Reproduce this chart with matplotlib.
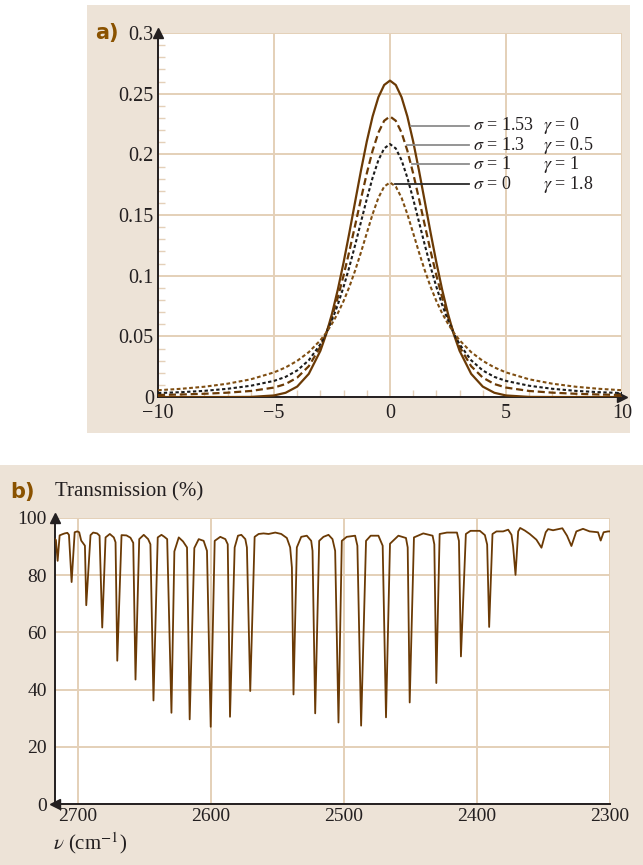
"""
Zwei Panels: a) Voigt-Profile mit verschiedenen sigma/gamma, b) IR-Transmissionsspektrum
"""
import numpy as np
import matplotlib
matplotlib.use("Agg")
import matplotlib.pyplot as plt
from matplotlib.patches import Rectangle
from matplotlib.ticker import MultipleLocator, FixedLocator

# --- Daten Panel a (nur x >= 0, Kurven symmetrisch) ---
x_half = [0, 0.25, 0.5, 0.75, 1, 1.25, 1.5, 1.75, 2, 2.25, 2.5, 2.75,
          3, 3.5, 4, 4.5, 5, 6, 7, 8, 9, 10]
g153 = [0.2608, 0.2572, 0.2471, 0.2312, 0.2106, 0.1867, 0.1612, 0.1355, 0.1109,
        0.0884, 0.0686, 0.0518, 0.0381, 0.0191, 0.0086, 0.0035, 0.0013, 0.0001,
        0.0, 0.0, 0.0, 0.0]
v130 = [0.2313, 0.2277, 0.2179, 0.2030, 0.1843, 0.1634, 0.1417, 0.1203, 0.1002,
        0.0820, 0.0661, 0.0526, 0.0414, 0.0254, 0.0160, 0.0107, 0.0078, 0.0050,
        0.0036, 0.0027, 0.0021, 0.0017]
v100 = [0.2085, 0.2049, 0.1952, 0.1807, 0.1632, 0.1443, 0.1254, 0.1073, 0.0908,
        0.0760, 0.0633, 0.0524, 0.0435, 0.0303, 0.0219, 0.0166, 0.0133, 0.0093,
        0.0068, 0.0051, 0.0040, 0.0033]
l180 = [0.1768, 0.1735, 0.1642, 0.1507, 0.1351, 0.1193, 0.1044, 0.0909, 0.0791,
        0.0690, 0.0604, 0.0530, 0.0468, 0.0370, 0.0298, 0.0244, 0.0203, 0.0146,
        0.0110, 0.0085, 0.0068, 0.0056]
sigma_labels = ["1.53", "1.3", "1", "0"]
gamma_labels = ["0", "0.5", "1", "1.8"]
# Beschriftungslinien: Start x (an der Kurve), y
leader_x = [0.90, 0.72, 0.93, 0.22]
leader_y = [0.2236, 0.2077, 0.1918, 0.1753]

# --- Daten Panel b ---
wavenumber = [
    2717.2, 2716.3, 2715.0, 2713.5, 2711.5, 2709.7, 2707.7, 2706.5, 2704.5, 2702.2,
    2700.3, 2698.8, 2697.3, 2694.5, 2693.5, 2690.3, 2688.3, 2685.3, 2683.5, 2681.5,
    2679.0, 2675.8, 2672.8, 2671.5, 2670.2, 2667.0, 2663.3, 2660.3, 2658.2, 2656.5,
    2653.7, 2650.3, 2647.0, 2645.3, 2643.0, 2639.8, 2637.0, 2634.8, 2632.7, 2629.5,
    2627.3, 2624.0, 2620.8, 2617.8, 2615.8, 2612.3, 2609.0, 2605.3, 2602.8, 2600.0,
    2597.0, 2592.8, 2589.0, 2587.2, 2585.5, 2582.0, 2579.5, 2577.0, 2574.0, 2572.8,
    2570.3, 2567.0, 2564.0, 2560.3, 2556.5, 2551.5, 2547.0, 2542.8, 2540.3, 2539.0,
    2537.8, 2535.3, 2532.0, 2527.8, 2524.5, 2523.5, 2521.5, 2518.5, 2515.3, 2511.5,
    2508.5, 2506.5, 2504.0, 2501.5, 2497.8, 2491.5, 2489.8, 2487.0, 2483.3, 2479.8,
    2474.0, 2470.8, 2468.3, 2465.3, 2459.0, 2453.3, 2452.0, 2450.5, 2447.3, 2440.3,
    2433.3, 2432.0, 2430.5, 2428.0, 2422.5, 2415.0, 2413.5, 2412.0, 2408.3, 2404.8,
    2397.8, 2394.0, 2392.3, 2390.8, 2388.3, 2385.3, 2380.3, 2376.5, 2374.0, 2372.8,
    2371.0, 2369.0, 2367.5, 2364.0, 2360.3, 2355.3, 2351.5, 2348.3, 2346.5, 2342.8,
    2335.8, 2332.3, 2329.0, 2325.3, 2320.3, 2315.3, 2309.0, 2307.0, 2304.8, 2301.5,
    2300.0]
transmission = [
    92.7, 92.3, 85.0, 93.9, 94.3, 94.6, 94.8, 94.1, 77.6, 95.0,
    95.3, 95.0, 92.1, 90.3, 69.5, 94.0, 94.9, 94.6, 93.8, 61.7,
    93.2, 94.4, 93.2, 91.5, 50.1, 94.0, 93.9, 93.1, 91.3, 43.5,
    92.6, 94.1, 92.6, 90.8, 36.2, 93.2, 94.1, 93.4, 92.6, 31.9,
    88.3, 93.2, 91.8, 89.7, 29.6, 89.5, 92.6, 92.0, 88.5, 27.0,
    92.0, 93.4, 92.6, 90.8, 30.5, 89.7, 93.8, 94.1, 92.6, 89.7,
    39.5, 93.4, 94.4, 94.6, 94.4, 94.9, 94.4, 93.0, 89.7, 82.7,
    38.3, 89.7, 93.4, 93.8, 92.0, 88.5, 31.7, 92.0, 93.4, 94.1,
    92.6, 88.5, 28.5, 92.0, 93.4, 93.8, 90.3, 27.4, 92.0, 93.8,
    93.8, 90.3, 30.3, 91.0, 93.8, 93.0, 89.7, 35.5, 93.2, 94.6,
    93.8, 90.8, 42.3, 94.4, 94.9, 94.9, 92.0, 51.6, 94.4, 95.5,
    95.5, 94.0, 90.7, 61.9, 94.4, 95.3, 95.3, 95.9, 94.1, 90.1,
    80.1, 95.3, 96.5, 95.6, 94.4, 92.4, 89.6, 95.0, 96.1, 95.7,
    96.4, 93.8, 90.2, 95.3, 96.2, 95.3, 95.0, 92.1, 95.0, 95.3,
    95.3]

# Farben
BEIGE = "#ede3d7"
GRID = "#e4d0b8"
AXIS = "#231f20"
BROWN = "#6b3a05"
BROWN2 = "#7f4e12"
LABEL = "#8a5200"
SERIF = ["Liberation Serif", "DejaVu Serif"]

plt.rcParams["mathtext.fontset"] = "stix"
plt.rcParams["font.family"] = SERIF

fig = plt.figure(figsize=(6.43, 8.65), dpi=100, facecolor="white")

# Hintergrundflaechen (unter den Achsen)
fig.patches.append(Rectangle((0.1353, 0.4994), 0.8445, 0.4948, transform=fig.transFigure,
                             facecolor=BEIGE, edgecolor="none", zorder=-10))
fig.patches.append(Rectangle((0.0, 0.0), 1.0, 0.4624, transform=fig.transFigure,
                             facecolor=BEIGE, edgecolor="none", zorder=-10))


def style_axes(ax):
    ax.set_facecolor("white")
    ax.set_axisbelow(True)
    for side in ("top", "right"):
        ax.spines[side].set_visible(False)
    for side in ("left", "bottom"):
        ax.spines[side].set_color(AXIS)
        ax.spines[side].set_linewidth(1.4)
    ax.grid(which="major", color=GRID, linewidth=1.4)
    ax.tick_params(which="major", length=0, colors=AXIS)


# ---------- Panel a ----------
ax1 = fig.add_axes([0.2457, 0.5410, 0.7216, 0.4208])
style_axes(ax1)

x_arr = np.array(x_half)
x_full = np.concatenate([-x_arr[:0:-1], x_arr])


def mirror(vals):
    v = np.array(vals)
    return np.concatenate([v[:0:-1], v])


ax1.plot(x_full, mirror(g153), color=BROWN, lw=1.6, zorder=3)
ax1.plot(x_full, mirror(v130), color=BROWN, lw=1.6, dashes=(3.2, 1.7), zorder=3)
ax1.plot(x_full, mirror(v100), color="#1c1c1c", lw=1.5, dashes=(1.6, 1.2), zorder=3)
ax1.plot(x_full, mirror(l180), color=BROWN2, lw=1.5, dashes=(1.8, 1.2), zorder=3)

ax1.set_xlim(-10, 10)
ax1.set_ylim(0, 0.3)
ax1.xaxis.set_major_locator(FixedLocator([-10, -5, 0, 5, 10]))
ax1.set_xticklabels(["\u221210", "\u22125", "0", "5", "10"])
ax1.yaxis.set_major_locator(FixedLocator([0, 0.05, 0.1, 0.15, 0.2, 0.25, 0.3]))
ax1.set_yticklabels(["0", "0.05", "0.1", "0.15", "0.2", "0.25", "0.3"])
ax1.xaxis.set_minor_locator(MultipleLocator(1))
ax1.yaxis.set_minor_locator(MultipleLocator(0.01))
ax1.tick_params(which="minor", direction="in", length=5, width=1.0, color=GRID)
ax1.tick_params(axis="x", which="major", labelsize=14.5, pad=5)
ax1.tick_params(axis="y", which="major", labelsize=14.5, pad=3)

# Beschriftungen mit Linien
for i in range(4):
    lc = "#8c8c8c" if i < 3 else "#2a2a2a"
    ax1.plot([leader_x[i], 3.42], [leader_y[i], leader_y[i]], color=lc, lw=1.3, zorder=4)
    ax1.text(3.56, leader_y[i], f"$\\sigma$ = {sigma_labels[i]}", fontsize=13,
             va="center", ha="left", color="#231f20")
    ax1.text(6.61, leader_y[i], f"$\\gamma$ = {gamma_labels[i]}", fontsize=13,
             va="center", ha="left", color="#231f20")

# Pfeile an den Achsen
ax1.plot(0, 1.0, marker="^", markersize=7, color=AXIS, transform=ax1.transAxes, clip_on=False)
ax1.plot(1.0, 0, marker=">", markersize=7, color=AXIS, transform=ax1.transAxes, clip_on=False)

fig.text(0.148, 0.962, "a)", fontsize=15, fontweight="bold", color=LABEL,
         family=["Liberation Sans Narrow", "DejaVu Sans"], va="center", ha="left")

# ---------- Panel b ----------
ax2 = fig.add_axes([0.0855, 0.0705, 0.8632, 0.3307])
style_axes(ax2)
ax2.plot(wavenumber, transmission, color=BROWN, lw=1.3, zorder=3)
ax2.set_xlim(2717, 2300)
ax2.set_ylim(0, 100)
ax2.xaxis.set_major_locator(FixedLocator([2700, 2600, 2500, 2400, 2300]))
ax2.yaxis.set_major_locator(FixedLocator([0, 20, 40, 60, 80, 100]))
ax2.tick_params(axis="x", which="major", labelsize=14, pad=3)
ax2.tick_params(axis="y", which="major", labelsize=14, pad=6)

ax2.plot(0, 1.0, marker="^", markersize=7, color=AXIS, transform=ax2.transAxes, clip_on=False)
ax2.plot(0, 0, marker="<", markersize=7, color=AXIS, transform=ax2.transAxes, clip_on=False)

fig.text(0.0156, 0.431, "b)", fontsize=15, fontweight="bold", color=LABEL,
         family=["Liberation Sans Narrow", "DejaVu Sans"], va="center", ha="left")
fig.text(0.0855, 0.431, "Transmission (%)", fontsize=15, color="#231f20",
         va="center", ha="left")
fig.text(0.082, 0.0254, r"$\nu$ (cm$^{-1}$)", fontsize=15, color="#231f20",
         va="center", ha="left")

fig.savefig("out.png", dpi=100, facecolor=fig.get_facecolor())
